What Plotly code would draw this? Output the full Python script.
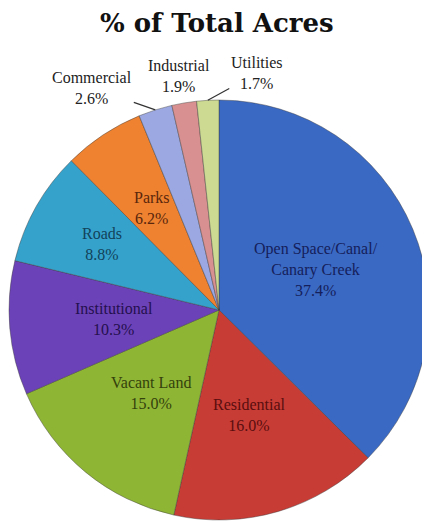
import math
import plotly.graph_objects as go

categories = ["Open Space/Canal/Canary Creek", "Residential", "Vacant Land",
              "Institutional", "Roads", "Parks", "Commercial", "Industrial", "Utilities"]
percent_values = [37.4, 16.0, 15.0, 10.3, 8.8, 6.2, 2.6, 1.9, 1.7]

# ---- styles ----
slice_colors = ["#3A69C4", "#C83C36", "#8FB535", "#6C42B8", "#35A2CC",
                "#EE8230", "#9CA8E2", "#D99090", "#CCDA92"]
text_colors = ["#15205A", "#5A0E0E", "#34420C", "#24104E", "#12435A",
               "#5A260C", "#222222", "#222222", "#222222"]
# inside-label distance from centre (fraction of radius); None = outside label
label_radius = [0.50, 0.52, 0.51, 0.50, 0.64, 0.58, None, None, None]
# outside labels: pixel offset of the text centre from the slice edge, leader line on/off
outside_offsets = {"Commercial": (-63, -22, True),
                   "Industrial": (-5, -27, False),
                   "Utilities": (49, -27, True)}

# the page body adds an 8px margin, so the figure is sized to the visible area
W, H = 422, 519
dom_x = [0.0024, 0.9976]
dom_y = [0.0135, 0.8227]

fig = go.Figure(go.Pie(
    labels=categories,
    values=percent_values,
    sort=False,
    direction="clockwise",
    rotation=0,
    marker=dict(colors=slice_colors, line=dict(color="rgba(60,60,60,0.55)", width=0.8)),
    textinfo="none",
    domain=dict(x=dom_x, y=dom_y),
    showlegend=False,
    hoverinfo="label+value",
))

# pie geometry (pixels) derived from its domain
cx = (dom_x[0] + dom_x[1]) / 2 * W
cy = (1 - (dom_y[0] + dom_y[1]) / 2) * H
R = min((dom_x[1] - dom_x[0]) * W, (dom_y[1] - dom_y[0]) * H) / 2

total = sum(percent_values)
cum = 0.0
annotations = []
for name, val, col, rf in zip(categories, percent_values, text_colors, label_radius):
    mid = (cum + val / 2) / total * 2 * math.pi
    cum += val
    text = name.replace("Canal/", "Canal/<br>") + "<br>" + f"{val:.1f}%"
    font = dict(family="Liberation Serif", size=16, color=col)
    common = dict(xref="paper", yref="paper", text=text, font=font,
                  xanchor="center", yanchor="middle", align="center")
    if rf is not None:
        px = cx + rf * R * math.sin(mid)
        py = cy - rf * R * math.cos(mid)
        annotations.append(dict(x=px / W, y=1 - py / H, showarrow=False, **common))
    else:
        ex = cx + R * math.sin(mid)
        ey = cy - R * math.cos(mid)
        ox, oy, line = outside_offsets[name]
        if line:
            annotations.append(dict(x=ex / W, y=1 - ey / H, showarrow=True, arrowhead=0,
                                    arrowwidth=1.2, arrowcolor="#333333",
                                    ax=ox, ay=oy, standoff=0, **common))
        else:
            annotations.append(dict(x=(ex + ox) / W, y=1 - (ey + oy) / H,
                                    showarrow=False, **common))

fig.update_layout(
    width=W, height=H,
    margin=dict(l=0, r=0, t=0, b=0),
    paper_bgcolor="white",
    title=dict(text="<b>% of Total Acres</b>", x=0.495, xanchor="center",
               y=0.971, yanchor="middle",
               font=dict(family="DejaVu Serif", size=26, color="#111111")),
    annotations=annotations,
)

fig.write_html("out.html")
